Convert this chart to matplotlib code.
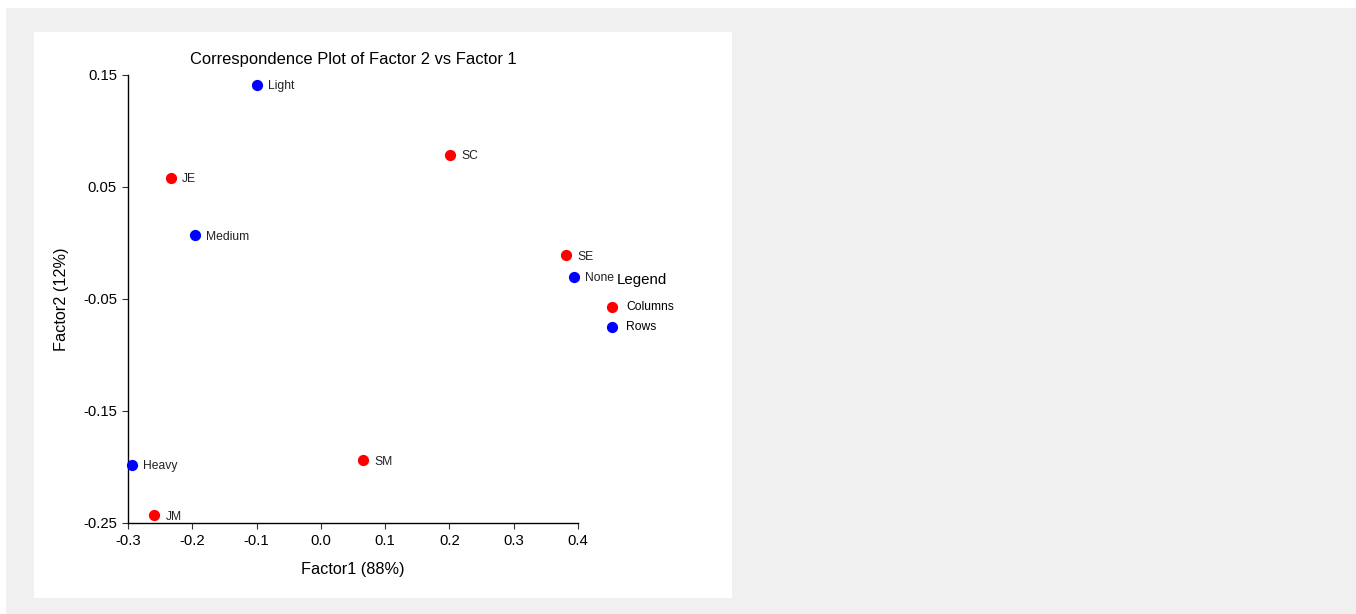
import matplotlib.pyplot as plt
from matplotlib.patches import Rectangle

plt.rcParams['font.family'] = ['Liberation Sans', 'DejaVu Sans']

# column points (red)
col_names = ['SM', 'JM', 'SE', 'JE', 'SC']
col_x = [0.066, -0.259, 0.381, -0.233, 0.201]
col_y = [-0.194, -0.243, -0.011, 0.058, 0.079]

# row points (blue)
row_names = ['None', 'Light', 'Medium', 'Heavy']
row_x = [0.393, -0.099, -0.196, -0.294]
row_y = [-0.030, 0.141, 0.007, -0.198]

xticks = [-0.3, -0.2, -0.1, 0.0, 0.1, 0.2, 0.3, 0.4]
yticks = [0.15, 0.05, -0.05, -0.15, -0.25]

W, H = 1356, 614
fig = plt.figure(figsize=(W / 100, H / 100), dpi=100)
fig.patch.set_facecolor('white')
fig.patches.append(Rectangle((6 / W, 0), 1 - 6 / W, 1 - 8 / H, transform=fig.transFigure,
                             facecolor='#f0f0f0', edgecolor='none', zorder=-2))
fig.patches.append(Rectangle((34 / W, 1 - 598 / H), (732 - 34) / W, (598 - 32) / H,
                             transform=fig.transFigure, facecolor='white', edgecolor='none', zorder=-1))

ax = fig.add_axes([128 / W, 1 - 523 / H, (578 - 128) / W, (523 - 75) / H])
ax.patch.set_alpha(0)

ax.scatter(col_x, col_y, s=50, color='#ff0000', zorder=3, clip_on=False, label='Columns')
ax.scatter(row_x, row_y, s=50, color='#0000ff', zorder=3, clip_on=False, label='Rows')
for n, x, y in zip(col_names, col_x, col_y):
    ax.annotate(n, (x, y), xytext=(8, -1), textcoords='offset points', va='center', fontsize=8.7, color='#222222')
for n, x, y in zip(row_names, row_x, row_y):
    ax.annotate(n, (x, y), xytext=(8, -1), textcoords='offset points', va='center', fontsize=8.7, color='#222222')

ax.set_xlim(-0.3, 0.4)
ax.set_ylim(-0.25, 0.15)
ax.set_xticks(xticks)
ax.set_xticklabels([f'{v:.1f}' for v in xticks])
ax.set_yticks(yticks)
ax.set_yticklabels([f'{v:.2f}' for v in yticks])
ax.tick_params(direction='out', length=4, width=0.8, labelsize=10.7, pad=4, color='#333333')
for s in ['top', 'right']:
    ax.spines[s].set_visible(False)
for s in ['left', 'bottom']:
    ax.spines[s].set_linewidth(1.0)

ax.set_title('Correspondence Plot of Factor 2 vs Factor 1', fontsize=11.9, pad=8)
ax.set_xlabel('Factor1 (88%)', fontsize=11.7, labelpad=10)
ax.set_ylabel('Factor2 (12%)', fontsize=11.7, labelpad=10)

ax.legend(loc='upper left', bbox_to_anchor=(1.0644, 0.4955), frameon=False,
          fontsize=8.7, handlelength=0.8, handletextpad=0.8, borderpad=0, borderaxespad=0,
          labelspacing=0.65, markerscale=1.0)
ax.text(1.0867, 0.5424, 'Legend', transform=ax.transAxes, fontsize=10.8, va='center', ha='left')

fig.savefig('out.png', dpi=100)
